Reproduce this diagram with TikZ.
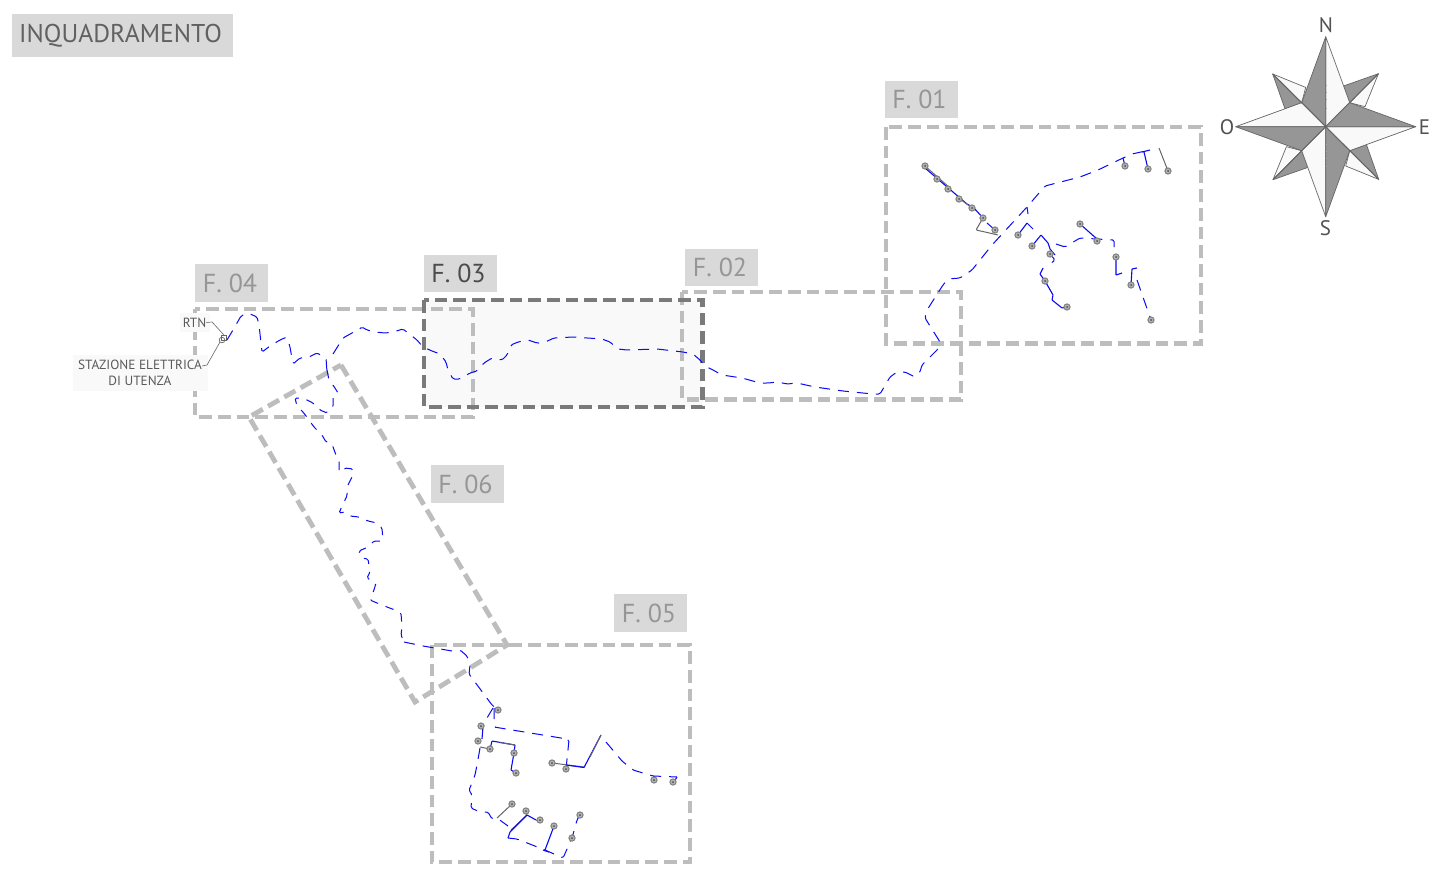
\documentclass[tikz,border=0pt]{standalone}
\usepackage{fontspec}
\setmainfont{PT Sans}
\definecolor{frameg}{HTML}{BDBDBD}
\definecolor{framed}{HTML}{7A7A7A}
\definecolor{tagg}{HTML}{D9D9D9}
\definecolor{tagt}{HTML}{969696}
\definecolor{pale}{HTML}{F9F9F9}
\definecolor{rose}{HTML}{969696}
\definecolor{route}{HTML}{0A0AF5}
\tikzset{
 frame/.style={draw=frameg,line width=4.8pt,dash pattern=on 12.7pt off 6pt},
 framedark/.style={draw=framed,line width=4.8pt,dash pattern=on 12.7pt off 6pt},
 tag/.style={fill=tagg,inner sep=0pt,text=tagt,font=\fontsize{26}{26}\selectfont,minimum width=73pt,minimum height=37.5pt,anchor=center,execute at end node={\kern3pt}},
 tagdark/.style={tag,text=black!70},
 dashroute/.style={draw=route,line width=1pt,dash pattern=on 11pt off 8pt,rounded corners=1.5pt},
 fineroute/.style={draw=route,line width=1pt,dash pattern=on 8.5pt off 8pt,rounded corners=1.5pt},
 solidroute/.style={draw=route,line width=1.1pt,rounded corners=0.5pt},
 grayroute/.style={draw=black!60,line width=1pt,rounded corners=1pt},
 pt tower/.style={draw=black!50,fill=black!30,line width=1pt},
 smalltxt/.style={text=black!65,font=\fontsize{13.3}{16}\selectfont,align=center,inner sep=0pt},
 leader/.style={draw=black!60,line width=0.6pt},
 rosedark/.style={fill=rose,draw=black!60,line width=0.7pt,line join=round},
 roselight/.style={fill=pale,draw=black!60,line width=0.7pt,line join=round},
 rosetxt/.style={text=black!68,font=\fontsize{21}{21}\selectfont,inner sep=0pt},
}
\newcommand{\tw}[1]{\fill[pt tower] #1 circle[radius=3.1]; \fill[black!70] #1 circle[radius=1];}
\begin{document}
\begin{tikzpicture}[x=1pt,y=-1pt]
\useasboundingbox (0,0) rectangle (1453,891);
\fill[white] (0,0) rectangle (1453,891);
% title
\node[fill=tagg,inner sep=0pt,text=black!62,font=\fontsize{25.7}{25.7}\selectfont,minimum width=221pt,minimum height=43pt,execute at end node={\kern4pt}] (title) at (122.5,35.5) {INQUADRAMENTO};
% tags
\node[tag] (f01) at (921,99.5) {F. 01};
\node[tag] (f02) at (721.5,267.5) {F. 02};
\node[tagdark] (f03) at (460,273.5) {F. 03};
\node[tag] (f04) at (231.5,283) {F. 04};
\node[tag] (f05) at (650.5,613) {F. 05};
\node[tag] (f06) at (467,484) {F. 06};
% frames
\fill[pale] (424,300) rectangle (702.7,407);
\draw[frame] (886,127) rectangle (1201,343.5);
\draw[frame] (682,292) rectangle (961,399.5);
\draw[frame] (195,309) rectangle (473,417);
\draw[framedark] (424,300) rectangle (702.7,407);
\draw[frame] (432,645) rectangle (690,862);
\draw[frame] (341,365) -- (507,645) -- (415,702) -- (249,417) -- cycle;
% small labels
\node[fill=pale,minimum width=30pt,minimum height=19pt,inner sep=0pt] (rtnbg) at (195,322.5) {};
\node[fill=pale,minimum width=135pt,minimum height=36pt,inner sep=0pt] (sebg) at (140.5,373) {};
\node[smalltxt] (rtn) at (194.5,322.5) {RTN};
\node[smalltxt] (se) at (140,373) {STAZIONE ELETTRICA\\DI UTENZA};
\coordinate (rtnend) at (224,335);
\coordinate (seend) at (220,342);
\draw[leader] (rtn.east) -- (212,322) -- (rtnend);
\draw[leader] (se.east|-0,366) -- (207,365) -- (seend);
\draw[black!60,line width=0.7pt] (221,335) rectangle (226,340);
\draw[black!60,line width=0.7pt] (222,340) circle[radius=2.8];
% main route east
\draw[dashroute] (227,340) -- (233,330) -- (241,316) -- (248,313) -- (257,317) -- (259,325) -- (262,352) -- (270,346) -- (280,340) -- (287,337) -- (290,347) -- (293,364) -- (300,358) -- (309,357) -- (317,353) -- (326,358) -- (327,372);
\draw[dashroute] (333,354) -- (338,346) -- (343,338) -- (352,333) -- (358,330) -- (362,327) -- (367,330) -- (375,332) -- (385,333) -- (393,332) -- (403,329) -- (408,333) -- (417,340) -- (423,347) -- (432,351) -- (440,354) -- (446,362) -- (448,370) -- (453,379) -- (460,379) -- (470,373) -- (477,371) -- (484,363) -- (492,358) -- (502,360) -- (507,355) -- (511,345) -- (518,342) -- (528,340) -- (537,343) -- (543,343) -- (554,338) -- (573,337) -- (602,339) -- (610,342) -- (618,349) -- (627,350) -- (657,349) -- (683,352) -- (693,354) -- (700,360) -- (705,366) -- (713,370) -- (722,375) -- (742,378) -- (760,383) -- (768,383) -- (778,382) -- (787,384) -- (797,383) -- (815,387) -- (843,391) -- (873,394) -- (880,394) -- (890,377) -- (897,372) -- (905,372) -- (915,377) -- (920,372) -- (922,365) -- (938,349) -- (940,342) -- (925,318) -- (927,310) -- (943,285) -- (948,279) -- (960,278) -- (972,270) -- (992,245) -- (1027,207) -- (1045,186) -- (1080,177) -- (1098,170) -- (1123,158) -- (1132,154) -- (1150,150);
% route south (F06)
\draw[fineroute] (327,370) -- (329,380) -- (335,388) -- (338,393) -- (341,397);
\draw[fineroute] (333,398) -- (333,407) -- (327,413) -- (320,410) -- (313,403) -- (303,398) -- (295,398) -- (297,406) -- (303,412) -- (309,420) -- (314,427) -- (322,435) -- (326,442) -- (332,443) -- (333,447) -- (336,455) -- (339,460) -- (339,473) -- (345,468) -- (353,469) -- (353,475) -- (347,487) -- (347,496) -- (343,504) -- (339,513) -- (345,512) -- (350,516) -- (359,517) -- (368,521) -- (377,523) -- (382,528) -- (383,541) -- (374,541) -- (368,547) -- (359,551) -- (361,558) -- (368,559) -- (370,572) -- (367,578) -- (376,583) -- (374,590) -- (370,600) -- (377,603) -- (387,607) -- (395,610) -- (401,613) -- (402,627) -- (401,635) -- (404,642);
\draw[dashroute] (404,642) -- (423,646) -- (452,651) -- (460,650) -- (467,656) -- (470,665) -- (469,674) -- (492,705) -- (498,710);
% F05 network
\draw[dashroute] (493,708) -- (487,718) -- (483,727);
\draw[solidroute] (483,727) -- (482,739);
\draw[grayroute] (480,747) -- (490,749);
\draw[dashroute] (480,748) -- (477,765) -- (475,775) -- (472,783) -- (469,790) -- (472,795) -- (471,808) -- (480,812) -- (488,812) -- (492,819) -- (497,818) -- (508,826);
\draw[dashroute] (508,838) -- (517,839) -- (545,850) -- (563,858) -- (572,838) -- (577,820) -- (580,815);
\draw[dashroute] (494,708) -- (494,727) -- (567,739) -- (569,740) -- (566,769);
\draw[solidroute] (490,749) -- (492,741) -- (515,745) -- (514,753) -- (511,770) -- (516,773);
\draw[grayroute] (500,742.5) -- (515,745);
\draw[grayroute] (552,763) -- (584,767);
\draw[solidroute] (566,765) -- (584,767.5) -- (601,735);
\draw[grayroute] (590,757) -- (601,735);
\draw[dashroute] (606,742) -- (622,761) -- (633,770) -- (653,776) -- (677,777);
\draw[solidroute] (654,776) -- (654,780);
\draw[solidroute] (677,777) -- (675,780);
\draw[grayroute] (512,804) -- (497,818);
\draw[grayroute] (526,811) -- (527,815) -- (511,830);
\draw[solidroute] (527,815) -- (510,832) -- (508,838);
\draw[solidroute] (527,815) -- (536,820);
\draw[grayroute] (536,820) -- (540,820);
\draw[solidroute] (554,826) -- (545,850);
\draw[solidroute] (543,850) -- (549,852);
% F01 network
\draw[solidroute] (925,168) -- (967,204) -- (973,207) -- (984,219);
\draw[grayroute] (925,166) -- (950,188);
\draw[grayroute] (960,199) -- (972,208);
\draw[grayroute] (983,218) -- (976,230) -- (985,232) -- (998,235);
\draw[dashroute] (987,223) -- (995,230);
\draw[solidroute] (1018,235) -- (1027,223);
\draw[dashroute] (1027,207) -- (1028,214);
\draw[dashroute] (1027,223) -- (1033,229);
\draw[solidroute] (1032,246) -- (1041,235) -- (1048,243) -- (1050,249) -- (1055,255);
\draw[dashroute] (1050,254) -- (1055,260) -- (1050,264);
\draw[solidroute] (1043,268) -- (1040,274) -- (1045,281) -- (1053,295) -- (1052,300) -- (1062,308) -- (1067,307);
\draw[dashroute] (1056,244) -- (1065,247) -- (1080,238) -- (1097,239) -- (1114,240) -- (1114,247);
\draw[solidroute] (1080,224) -- (1097,239) -- (1097,241);
\draw[solidroute] (1116,257) -- (1116,275) -- (1122,273);
\draw[solidroute] (1131,285) -- (1132,269) -- (1137,268);
\draw[dashroute] (1137,280) -- (1151,320);
\draw[solidroute] (1123,158) -- (1125,166);
\draw[solidroute] (1142,152) -- (1150,150);
\draw[solidroute] (1144,152) -- (1148,169);
\draw[grayroute] (1159,148) -- (1168,171);
% towers
\foreach \p in {(925,166),(937,179),(948,189),(959,199),(972,208),(983,218),(995,230),(1125,166),(1148,169),(1168,171),(1018,235),(1032,246),(1050,254),(1045,281),(1067,307),(1080,224),(1097,241),(1116,257),(1131,285),(1151,320),(498,710),(481,726),(478,741),(490,749),(514,753),(516,773),(552,763),(566,769),(654,780),(673,782),(512,804),(526,811),(540,820),(554,826),(580,815),(572,838)} {\tw{\p}}
% compass rose
\begin{scope}[shift={(1325.7,126.7)}]
\foreach \a in {0,90,180,270} {
 \begin{scope}[rotate=\a]
 \path[roselight] (0,0) -- (52.7,-53) -- (39.3,-20) -- (24,-24) -- cycle;
 \path[rosedark] (0,0) -- (52.7,-53) -- (17.8,-40.7) -- (24,-24) -- cycle;
 \end{scope}
}
\foreach \a in {0,90,180,270} {
 \begin{scope}[rotate=\a]
 \path[roselight] (0,0) -- (0,-90) -- (24,-24) -- cycle;
 \path[rosedark] (0,0) -- (0,-90) -- (-24,-24) -- cycle;
 \draw[black!60,line width=0.9pt] (0,0) -- (52.7,-53);
 \end{scope}
}
\foreach \t in {-41,-34,-27,-18,18,25,32,40} \draw[black!35,line width=0.5pt] (0,\t) -- (1.5,\t);
\end{scope}
\node[rosetxt] (north) at (1326,25) {N};
\node[rosetxt] (east) at (1424.5,127) {E};
\node[rosetxt] (south) at (1325.5,228) {S};
\node[rosetxt] (west) at (1227,127) {O};
\end{tikzpicture}
\end{document}
